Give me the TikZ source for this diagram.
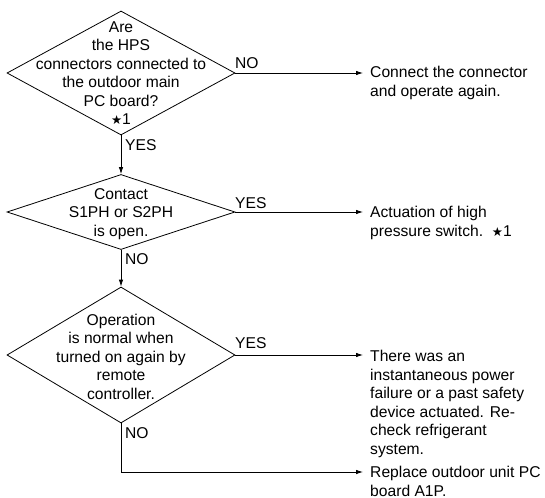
\documentclass[tikz,border=0pt]{standalone}
\usepackage{fontspec}
\setmainfont{Liberation Sans}
\newfontfamily\symfont{DejaVu Sans}
\usetikzlibrary{shapes.geometric,arrows.meta}
\newcommand\starone{{\symfont\fontsize{12.5}{18.6}\selectfont ★}1}
\begin{document}
\begin{tikzpicture}[x=1bp,y=-1bp,
  font=\fontsize{15.7}{18.6}\selectfont,
  dshape/.style={diamond,draw,line width=0.8bp,inner sep=0pt,minimum width=228bp},
  dtext/.style={align=center,inner sep=0pt},
  rtext/.style={align=left,anchor=north west,inner sep=0pt},
  lbl/.style={inner sep=0pt,anchor=base west},
  arr/.style={draw,line width=0.8bp,-{Latex[length=7bp,width=4.5bp]}},
  ]
\useasboundingbox (0,0) rectangle (545,498);

% decisions
\node[dshape,minimum height=124bp] (d1) at (121,73) {};
\node[dtext] (d1t) at (121,73) {Are\\the HPS\\connectors connected to\\the outdoor main\\PC board?\\\starone};
\node[dshape,minimum height=75bp] (d2) at (121,212) {};
\node[dtext] (d2t) at (121,214) {Contact\\S1PH or S2PH\\is open.};
\node[dshape,minimum height=136bp] (d3) at (121,355) {};
\node[dtext] (d3t) at (121,356.5) {Operation\\is normal when\\turned on again by\\remote\\controller.};

% results
\node[rtext] (r1) at (370,66) {Connect the connector\\and operate again.};
\node[rtext] (r2) at (370,206) {Actuation of high\\pressure switch.\ \ \starone};
\node[rtext] (r3) at (370,350) {There was an\\instantaneous power\\failure or a past safety\\device actuated. Re-\\check refrigerant\\system.};
\node[rtext] (r4) at (370,466) {Replace outdoor unit PC\\board A1P.};

% arrow end points
\coordinate (e1) at (363,72);
\coordinate (e2) at (363,212);
\coordinate (e3) at (363,355);
\coordinate (e4) at (363,472);

% connectors
\draw[arr] (d1.east) -- (d1.east -| e1);
\draw[arr] (d1.south) -- (d2.north);
\draw[arr] (d2.east) -- (e2);
\draw[arr] (d2.south) -- (d3.north);
\draw[arr] (d3.east) -- (e3);
\draw[arr] (d3.south) |- (e4);

% labels
\node[lbl] (l1) at (235,68.7) {NO};
\node[lbl] (l2) at (125,150.6) {YES};
\node[lbl] (l3) at (235,208.6) {YES};
\node[lbl] (l4) at (125,264.6) {NO};
\node[lbl] (l5) at (235,348.6) {YES};
\node[lbl] (l6) at (125,438.6) {NO};
\end{tikzpicture}
\end{document}
